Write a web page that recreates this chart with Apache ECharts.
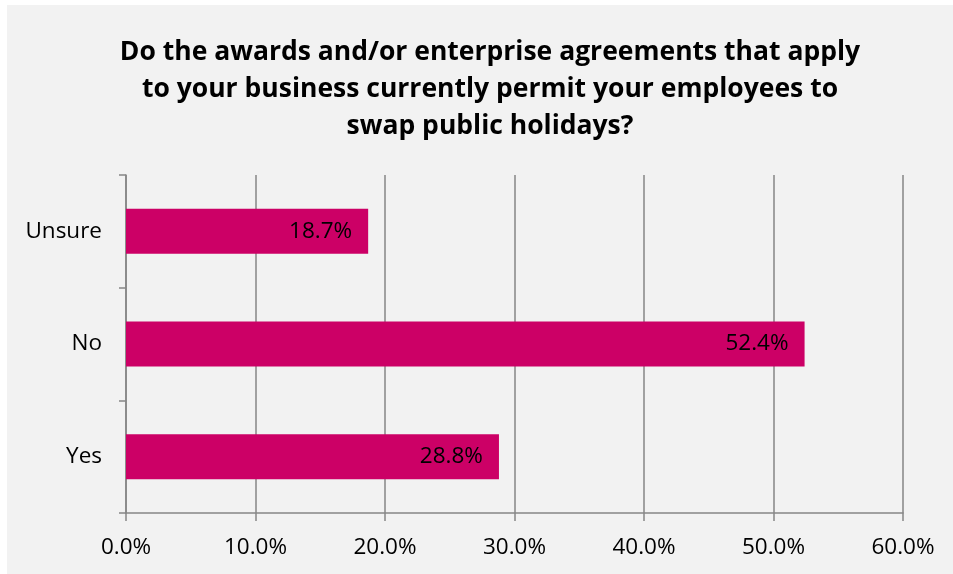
<!DOCTYPE html>
<html>
<head>
<meta charset="utf-8">
<script src="https://cdn.jsdelivr.net/npm/echarts@6/dist/echarts.min.js"></script>
<style>
  html, body { margin: 0; padding: 0; background: #ffffff; }
  #chart { position: absolute; left: 7px; top: 5px; width: 946px; height: 569px; background: #F2F2F2; }
</style>
</head>
<body>
<div id="chart"></div>
<script>
// Survey answers, listed bottom to top on the category axis
const categories = ['Yes', 'No', 'Unsure'];
const shares = [28.8, 52.4, 18.7];
const xTicks = [0, 10, 20, 30, 40, 50, 60];
const titleText = 'Do the awards and/or enterprise agreements that apply\nto your business currently permit your employees to\nswap public holidays?';

const chart = echarts.init(document.getElementById('chart'), null, { renderer: 'canvas' });
const axisGray = '#868686';
const font = 'Open Sans';

chart.setOption({
  backgroundColor: '#F2F2F2',
  animation: false,
  title: {
    text: titleText,
    left: 478,
    top: 24,
    textAlign: 'center',
    textStyle: {
      fontFamily: font,
      fontWeight: 'bold',
      fontSize: 26.5,
      lineHeight: 37,
      color: '#000000'
    }
  },
  grid: { left: 119, right: 50, top: 170, bottom: 61, containLabel: false },
  xAxis: {
    type: 'value',
    min: xTicks[0],
    max: xTicks[xTicks.length - 1],
    interval: xTicks[1] - xTicks[0],
    axisLine: { show: true, lineStyle: { color: axisGray, width: 1.5 } },
    axisTick: { show: true, length: 8, lineStyle: { color: axisGray, width: 1.5 } },
    splitLine: { show: true, lineStyle: { color: axisGray, width: 1.5 } },
    axisLabel: {
      margin: 23,
      fontFamily: font,
      fontSize: 22.5,
      color: '#000000',
      formatter: v => v.toFixed(1) + '%'
    }
  },
  yAxis: {
    type: 'category',
    data: categories,
    axisLine: { show: true, lineStyle: { color: axisGray, width: 1.5 } },
    axisTick: { show: true, length: 7, lineStyle: { color: axisGray, width: 1.5 } },
    axisLabel: {
      margin: 24,
      fontFamily: font,
      fontSize: 22.5,
      color: '#000000'
    }
  },
  series: [{
    type: 'bar',
    data: shares,
    barWidth: '40%',
    itemStyle: { color: '#CC0066' },
    label: {
      show: true,
      position: 'insideRight',
      distance: 16,
      fontFamily: font,
      fontSize: 22.5,
      color: '#000000',
      formatter: p => p.value.toFixed(1) + '%'
    }
  }]
});
</script>
</body>
</html>
